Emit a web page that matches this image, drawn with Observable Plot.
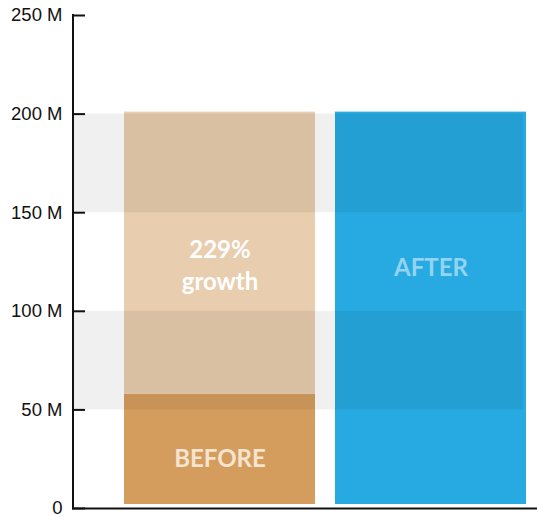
<!DOCTYPE html>
<html>
<head>
<meta charset="utf-8">
<script src="https://cdn.jsdelivr.net/npm/d3@7"></script>
<script src="https://cdn.jsdelivr.net/npm/@observablehq/plot@0.6"></script>
<style>
  html, body { margin: 0; padding: 0; background: #fff; }
  #chart svg { display: block; }
</style>
</head>
<body>
<div id="chart"></div>
<script>
// Revenue before and after, in millions
const categories = ["BEFORE", "AFTER"];
const values = [58, 201];
const yTicks = [0, 50, 100, 150, 200, 250];
const shadedBands = [[50, 100], [150, 200]];
const growthLabel = "229%\ngrowth";

const W = 537, H = 517;
const marginLeft = 72, marginRight = 0;
const frameW = W - marginLeft - marginRight;

const before = values[0], after = values[1];
const baseBars = [
  {name: categories[0], lo: 0, hi: before, fill: "#d49d5e"},
  {name: categories[1], lo: 0, hi: after, fill: "#27a9e1"}
];
const growthBar = [{name: categories[0], lo: before, hi: after, fill: "#e8cdae"}];

const labelFont = {fontWeight: "bold", fontFamily: "Lato, sans-serif", fontSize: 24, letterSpacing: 2};

const chart = Plot.plot({
  width: W,
  height: H,
  marginLeft,
  marginRight,
  marginTop: 15,
  marginBottom: 9,
  style: {fontFamily: "'Liberation Sans', Arial, sans-serif", fontSize: "18.5px", color: "#111"},
  x: {domain: categories, range: [124, 526], paddingInner: 20 / 211, paddingOuter: 0, axis: null},
  y: {domain: [0, 250], axis: null},
  marks: [
    Plot.barY(baseBars, {x: "name", y1: "lo", y2: "hi", fill: "fill", insetBottom: 4}),
    Plot.barY(growthBar, {x: "name", y1: "lo", y2: "hi", fill: "fill"}),
    // alternating shaded bands laid over the bars
    Plot.rect(shadedBands, {y1: d => d[0], y2: d => d[1], fill: "black", fillOpacity: 0.06, insetRight: 14}),
    // y axis line
    Plot.rect([{lo: 0, hi: 250}], {y1: "lo", y2: "hi", fill: "#111", insetRight: frameW - 2, insetTop: -1}),
    // inward tick marks
    Plot.tickY(yTicks, {y: d => d, stroke: "#111", strokeWidth: 2, insetRight: frameW - 13}),
    Plot.axisY(yTicks, {tickSize: 0, tickPadding: 10, tickFormat: d => d === 0 ? "0" : `${d} M`, fontSize: 18.5, fill: "#111"}),
    // x axis baseline
    Plot.ruleY([0], {stroke: "#111", strokeWidth: 2}),
    // bar labels
    Plot.text([categories[0]], {x: d => d, y: () => 25, text: d => d, fill: "#f5e4cf", ...labelFont}),
    Plot.text([growthLabel], {x: () => categories[0], y: () => 124, text: d => d, fill: "#ffffff", lineHeight: 1.3, ...labelFont}),
    Plot.text([categories[1]], {x: d => d, y: () => 122, text: d => d, fill: "#ffffff", fillOpacity: 0.5, ...labelFont})
  ]
});

document.getElementById("chart").appendChild(chart);
</script>
</body>
</html>
